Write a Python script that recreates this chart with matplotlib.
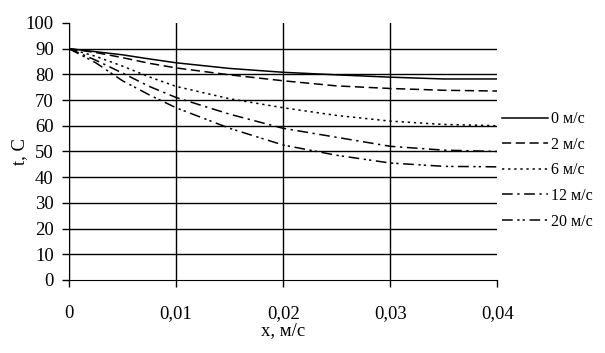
import matplotlib.pyplot as plt

plt.rcParams['font.family'] = ['Liberation Serif', 'DejaVu Serif']

x = [0, 0.0025, 0.005, 0.0075, 0.01, 0.015, 0.02, 0.025, 0.03, 0.035, 0.04]
t_0 = [90, 88.8, 87.6, 86.0, 84.5, 82.3, 80.8, 79.8, 78.9, 78.2, 78.2]
t_2 = [90, 88.5, 86.5, 84.3, 82.5, 79.8, 77.5, 75.5, 74.5, 73.8, 73.5]
t_6 = [90, 87.0, 83.2, 79.0, 75.3, 70.5, 67.0, 64.0, 61.8, 60.5, 60.0]
t_12 = [90, 85.5, 80.5, 75.3, 71.0, 64.5, 59.0, 55.5, 52.0, 50.5, 50.0]
t_20 = [90, 84.5, 77.5, 72.0, 67.0, 59.0, 52.5, 48.5, 45.5, 44.2, 44.0]
labels = ["0 м/с", "2 м/с", "6 м/с", "12 м/с", "20 м/с"]
x_ticks = [0, 0.01, 0.02, 0.03, 0.04]
x_tick_labels = ["0", "0,01", "0,02", "0,03", "0,04"]
y_ticks = list(range(0, 101, 10))

styles = ['-', (0, (6, 3)), (0, (1.5, 2.5)), (0, (7, 3, 1.5, 3)), (0, (7, 3, 1.5, 2, 1.5, 3))]
series = [t_0, t_2, t_6, t_12, t_20]

fig = plt.figure(figsize=(6.05, 3.53), dpi=100)
ax = fig.add_axes([0.114, 0.207, 0.708, 0.728])

for i in range(len(series)):
    ax.plot(x, series[i], color="black", linestyle=styles[i], linewidth=1.1, label=labels[i])

ax.set_xlim(0, 0.04)
ax.set_ylim(0, 100)
ax.set_xticks(x_ticks)
ax.set_xticklabels(x_tick_labels)
ax.set_yticks(y_ticks)
ax.grid(True, color="black", linewidth=1)
ax.get_ygridlines()[-1].set_visible(False)
ax.get_ygridlines()[0].set_visible(False)
ax.get_xgridlines()[-1].set_visible(False)
ax.set_axisbelow(True)
for s in ["top", "right"]:
    ax.spines[s].set_visible(False)
ax.tick_params(axis="both", direction="out", length=5, width=1, labelsize=13.5, colors="black")
ax.tick_params(axis="x", pad=13)
ax.tick_params(axis="y", pad=6)
ax.set_xlabel("x, м/с", fontsize=13.5)
ax.xaxis.set_label_coords(0.5, -0.165)
ax.set_ylabel("t, C", fontsize=13.5)
ax.yaxis.set_label_coords(-0.096, 0.5)

ax.legend(loc="center left", bbox_to_anchor=(1.0, 0.426), frameon=False, fontsize=11.5,
          handlelength=2.9, handletextpad=0.15, labelspacing=0.6, borderpad=0, borderaxespad=0.3)

plt.savefig("out.png", format="png", dpi=100)
plt.close(fig)
